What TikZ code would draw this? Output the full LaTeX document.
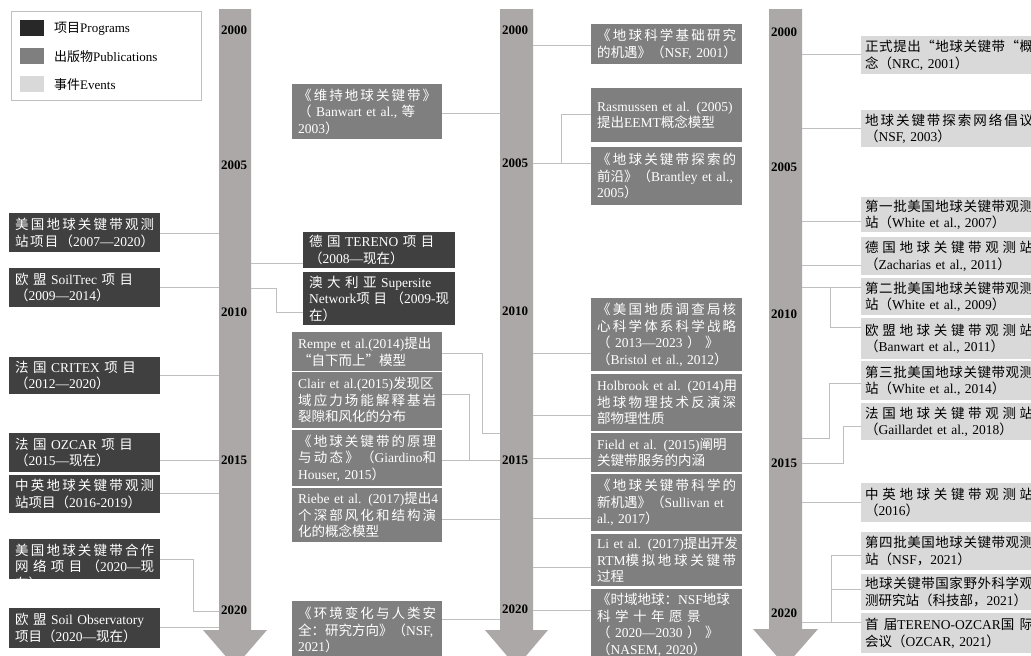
\documentclass[tikz,border=0pt]{standalone}
\usepackage{fontspec}
\setmainfont{Liberation Serif}
\newfontfamily\zhfont{Noto Sans CJK SC}
\setlength{\parindent}{0pt}
\XeTeXinterchartokenstate=1
\chardef\CJKcls=10
\newcount\cjkcnt
\newdimen\cjkst \cjkst=0pt
\newcommand\setcjkrange[2]{\cjkcnt=#1\relax
  \loop\XeTeXcharclass\cjkcnt=\CJKcls\relax
  \advance\cjkcnt by 1\relax
  \ifnum\cjkcnt<#2\relax\repeat}
\setcjkrange{"3000}{"3040}
\setcjkrange{"4E00}{"A000}
\setcjkrange{"FF00}{"FFF0}
\XeTeXcharclass"201C=\CJKcls
\XeTeXcharclass"201D=\CJKcls
\XeTeXcharclass"2014=0
\XeTeXinterchartoks 0 \CJKcls = {\zhfont}
\XeTeXinterchartoks 4095 \CJKcls = {\zhfont}
\XeTeXinterchartoks \CJKcls 0 = {\rmfamily}
\XeTeXinterchartoks \CJKcls 4095 = {\rmfamily}
\XeTeXinterchartoks \CJKcls \CJKcls = {\hskip 0pt plus \cjkst\relax}
% justified line, stretch between Chinese characters
\newcommand\jl[1]{\makebox[\hsize][s]{\cjkst=1pt\relax #1}}
% justified line, stretch in the spaces only
\newcommand\jm[1]{\makebox[\hsize][s]{\cjkst=0pt\relax #1}}
\definecolor{arrowc}{RGB}{172,168,167}
\definecolor{progc}{RGB}{64,64,64}
\definecolor{pubc}{RGB}{127,127,127}
\definecolor{evtc}{RGB}{217,217,217}
\definecolor{connc}{RGB}{191,191,191}
\definecolor{legdark}{RGB}{40,40,40}
\definecolor{legmid}{RGB}{127,127,127}
\definecolor{leglight}{RGB}{217,217,217}
\begin{document}
\begin{tikzpicture}[x=1pt,y=-1pt,
  bxbase/.style={anchor=north west, inner sep=0pt, align=left, font=\fontsize{13.5}{16.5}\selectfont},
  prog/.style={bxbase, fill=progc, text=white},
  pub/.style={bxbase, fill=pubc, text=white},
  evt/.style={bxbase, fill=evtc, text=black},
  colL/.style={minimum width=151pt, text width=139pt},
  colT/.style={minimum width=152pt, text width=140pt},
  colB/.style={minimum width=150pt, text width=138pt},
  colC/.style={minimum width=151pt, text width=139pt},
  colE/.style={minimum width=176pt, text width=168pt},
  conn/.style={draw=connc, line width=1pt},
  shaft/.style={fill=arrowc},
  yr/.style={anchor=west, inner sep=0pt, font=\bfseries\fontsize{13}{15}\selectfont},
  legtxt/.style={anchor=west, inner sep=0pt, font=\fontsize{13}{15}\selectfont},
  sw/.style={anchor=north west, inner sep=0pt, minimum width=24pt, minimum height=16pt}]
\useasboundingbox (0,0) rectangle (1031,656);
\clip (0,0) rectangle (1031,656);
\fill[white] (0,0) rectangle (1031,656);

% arrows
\fill[shaft] (219,9) -- (251,9) -- (251,630) -- (267,630) -- (235,667) -- (203,630) -- (219,630) -- cycle;
\fill[shaft] (500,9) -- (533,9) -- (533,630) -- (548,630) -- (516.5,667) -- (485,630) -- (500,630) -- cycle;
\fill[shaft] (769,9) -- (802,9) -- (802,629) -- (818,629) -- (785.5,666) -- (753,629) -- (769,629) -- cycle;

% years
\foreach \yv/\yy in {2000/30,2005/165,2010/312,2015/460,2020/610}
  \node[yr] (ya\yv) at (221,\yy) {\yv};
\foreach \yv/\yy in {2000/30,2005/163,2010/311,2015/460,2020/609}
  \node[yr] (yb\yv) at (502,\yy) {\yv};
\foreach \yv/\yy in {2000/32,2005/167,2010/314,2015/463,2020/613}
  \node[yr] (yc\yv) at (771,\yy) {\yv};

% legend
\node[draw=connc, line width=1pt, anchor=north west, inner sep=0pt, minimum width=190pt, minimum height=89pt] (leg) at (11,11) {};
\node[sw, fill=legdark] (sw1) at (20,20) {};
\node[sw, fill=legmid] (sw2) at (20,48) {};
\node[sw, fill=leglight] (sw3) at (20,76) {};
\node[legtxt] (lt1) at (54,29) {项目Programs};
\node[legtxt] (lt2) at (54,57) {出版物Publications};
\node[legtxt] (lt3) at (54,85) {事件Events};

% programs, left column
\node[prog,colL,minimum height=39pt] (P1) at (9,213) {\jl{美国地球关键带观测}\\\jl{站项目（2007—2020）}};
\node[prog,colL,minimum height=39pt] (P2) at (9,268) {\jm{欧 盟 SoilTrec 项 目}\\（2009—2014）};
\node[prog,colL,minimum height=37pt] (P3) at (9,357) {\jm{法 国 CRITEX 项 目}\\（2012—2020）};
\node[prog,colL,minimum height=39pt] (P4) at (9,433) {\jm{法 国 OZCAR 项 目}\\（2015—现在）};
\node[prog,colL,minimum height=38pt] (P5) at (9,475) {\jl{中英地球关键带观测}\\站项目（2016-2019）};
\begin{scope}
\clip (9,539) rectangle (160,578);
\node[prog,colL,inner ysep=4.5pt] (P6) at (9,539) {\jl{美国地球关键带合作}\\\jl{网络项目（2020—现}\\在）};
\end{scope}
\node[prog,colL,minimum height=40pt] (P7) at (9,608) {\jm{欧 盟 Soil Observatory}\\项目（2020—现在）};

% programs, second column
\node[prog,colT,minimum height=36pt] (T1) at (303,232) {\jm{德 国 TERENO 项 目}\\（2008—现在）};
\node[prog,colT,minimum height=53pt] (T2) at (303,272) {\jm{澳 大 利 亚 Supersite}\\\jl{Network项目（2009-现}\\在）};

% publications, second column
\node[pub,colB,minimum height=55pt] (B1) at (292,84) {\jl{《维持地球关键带》}\\\jm{（ Banwart et al., 等}\\2003）};
\node[pub,colB,minimum height=39pt] (B2) at (292,332) {\jm{Rempe et al.(2014)提出}\\“自下而上”模型};
\node[pub,colB,minimum height=56pt] (B3) at (292,372) {\jm{Clair et al.(2015)发现区}\\\jl{域应力场能解释基岩}\\裂隙和风化的分布};
\node[pub,colB,minimum height=56pt] (B4) at (292,430) {\jl{《地球关键带的原理}\\\jl{与动态》（Giardino和}\\Houser, 2015）};
\node[pub,colB,minimum height=54pt] (B5) at (292,488) {\jm{Riebe et al. (2017)提出4}\\\jl{个深部风化和结构演}\\化的概念模型};
\node[pub,colB,minimum height=58pt] (B6) at (292,601) {\jl{《环境变化与人类安}\\\jm{全：研究方向》（NSF,}\\2021）};

% publications, third column
\node[pub,colC,minimum height=40pt] (C1) at (591,24) {\jl{《地球科学基础研究}\\\jm{的机遇》（NSF, 2001）}};
\node[pub,colC,minimum height=54pt] (C2) at (591,88) {\jm{Rasmussen et al. (2005)}\\提出EEMT概念模型};
\node[pub,colC,minimum height=58pt] (C3) at (591,147) {\jl{《地球关键带探索的}\\\jm{前沿》（Brantley et al.,}\\2005）};
\node[pub,colC,minimum height=73pt] (C4) at (591,298) {\jl{《美国地质调查局核}\\\jl{心科学体系科学战略}\\\jm{（ 2013—2023 ） 》}\\（Bristol et al., 2012）};
\node[pub,colC,minimum height=57pt] (C5) at (591,374) {\jm{Holbrook et al. (2014)用}\\\jl{地球物理技术反演深}\\部物理性质};
\node[pub,colC,minimum height=39pt] (C6) at (591,433) {\jm{Field et al. (2015)阐明}\\关键带服务的内涵};
\node[pub,colC,minimum height=57pt] (C7) at (591,474) {\jl{《地球关键带科学的}\\\jm{新机遇》（Sullivan et}\\al., 2017）};
\node[pub,colC,minimum height=52pt] (C8) at (591,534) {\jm{Li et al. (2017)提出开发}\\\jl{RTM模拟地球关键带}\\过程};
\node[pub,colC,minimum height=71pt] (C9) at (591,589) {\jm{《时域地球：NSF地球}\\\jm{科 学 十 年 愿 景}\\\jm{（ 2020—2030 ） 》}\\（NASEM, 2020）};

% events, right column
\node[evt,colE,minimum height=38pt] (E1) at (861,36) {\jl{正式提出“地球关键带“概}\\念（NRC, 2001）};
\node[evt,colE,minimum height=37pt] (E2) at (861,110) {\jl{地球关键带探索网络倡议}\\（NSF, 2003）};
\node[evt,colE,minimum height=35pt] (E3) at (861,197) {\jl{第一批美国地球关键带观测}\\站（White et al., 2007）};
\node[evt,colE,minimum height=38pt] (E4) at (861,237) {\jl{德国地球关键带观测站}\\（Zacharias et al., 2011）};
\node[evt,colE,minimum height=37pt] (E5) at (861,278) {\jl{第二批美国地球关键带观测}\\站（White et al., 2009）};
\node[evt,colE,minimum height=41pt] (E6) at (861,318) {\jl{欧盟地球关键带观测站}\\（Banwart et al., 2011）};
\node[evt,colE,minimum height=39pt] (E7) at (861,361) {\jl{第三批美国地球关键带观测}\\站（White et al., 2014）};
\node[evt,colE,minimum height=37pt] (E8) at (861,403) {\jl{法国地球关键带观测站}\\（Gaillardet et al., 2018）};
\node[evt,colE,minimum height=39pt] (E9) at (861,483) {\jl{中英地球关键带观测站}\\（2016）};
\node[evt,colE,minimum height=38pt] (E10) at (861,532) {\jl{第四批美国地球关键带观测}\\站（NSF，2021）};
\node[evt,colE,minimum height=36pt] (E11) at (861,574) {\jl{地球关键带国家野外科学观}\\测研究站（科技部，2021）};
\node[evt,colE,minimum height=40pt] (E12) at (861,613) {\jl{首届TERENO-OZCAR国际}\\会议（OZCAR, 2021）};

% junction coordinates on the shafts
\coordinate (j1) at (219,233);
\coordinate (j2) at (219,287);
\coordinate (j3) at (219,375);
\coordinate (j4) at (219,460);
\coordinate (j5) at (219,493);
\coordinate (k6a) at (193,559);
\coordinate (k6b) at (193,611);
\coordinate (j6) at (219,611);
\coordinate (j7) at (219,627);
\coordinate (r1) at (251,263);
\coordinate (r2) at (251,288);
\coordinate (r2a) at (276,288);
\coordinate (r2b) at (276,312);
\coordinate (m1) at (500,113);
\coordinate (b2a) at (482,353);
\coordinate (b2b) at (482,433);
\coordinate (m2) at (500,433);
\coordinate (b3a) at (469,394);
\coordinate (b3b) at (469,460);
\coordinate (m3) at (500,460);
\coordinate (m5) at (500,519);
\coordinate (m6) at (500,619);
\coordinate (n1) at (533,45);
\coordinate (c2a) at (561,114);
\coordinate (c2b) at (561,163);
\coordinate (n2) at (533,163);
\coordinate (n4) at (533,353);
\coordinate (n5) at (533,415);
\coordinate (n6) at (533,458);
\coordinate (n7) at (533,518);
\coordinate (n8) at (533,567);
\coordinate (n9) at (533,610);
\coordinate (q1) at (802,54);
\coordinate (q2) at (802,128);
\coordinate (q3) at (802,221);
\coordinate (q4) at (802,265);
\coordinate (q5) at (802,287);
\coordinate (g5) at (830,287);
\coordinate (g6) at (830,327);
\coordinate (g7a) at (829,383);
\coordinate (g7b) at (829,438);
\coordinate (q7) at (802,438);
\coordinate (g8a) at (843,426);
\coordinate (g8b) at (843,463);
\coordinate (q8) at (802,463);
\coordinate (q9) at (802,502);
\coordinate (g10a) at (831,555);
\coordinate (g10b) at (831,622);
\coordinate (q10) at (802,622);
\coordinate (g11) at (831,589);

% connectors
\draw[conn] (P1.east |- j1) -- (j1);
\draw[conn] (P2.east |- j2) -- (j2);
\draw[conn] (P3.east |- j3) -- (j3);
\draw[conn] (P4.east |- j4) -- (j4);
\draw[conn] (P5.east |- j5) -- (j5);
\draw[conn] (P6.east |- k6a) -- (k6a) -- (k6b) -- (j6);
\draw[conn] (P7.east |- j7) -- (j7);
\draw[conn] (r1) -- (T1.west |- r1);
\draw[conn] (r2) -- (r2a) -- (r2b) -- (T2.west |- r2b);
\draw[conn] (B1.east |- m1) -- (m1);
\draw[conn] (B2.east |- b2a) -- (b2a) -- (b2b) -- (m2);
\draw[conn] (B3.east |- b3a) -- (b3a) -- (b3b) -- (m3);
\draw[conn] (B4.east |- m3) -- (b3b);
\draw[conn] (B5.east |- m5) -- (m5);
\draw[conn] (B6.east |- m6) -- (m6);
\draw[conn] (n1) -- (C1.west |- n1);
\draw[conn] (C2.west |- c2a) -- (c2a) -- (c2b) -- (n2);
\draw[conn] (n2) -- (C3.west |- n2);
\draw[conn] (n4) -- (C4.west |- n4);
\draw[conn] (n5) -- (C5.west |- n5);
\draw[conn] (n6) -- (C6.west |- n6);
\draw[conn] (n7) -- (C7.west |- n7);
\draw[conn] (n8) -- (C8.west |- n8);
\draw[conn] (n9) -- (C9.west |- n9);
\draw[conn] (q1) -- (E1.west |- q1);
\draw[conn] (q2) -- (E2.west |- q2);
\draw[conn] (q3) -- (E3.west |- q3);
\draw[conn] (q4) -- (E4.west |- q4);
\draw[conn] (q5) -- (E5.west |- q5);
\draw[conn] (g5) -- (g6) -- (E6.west |- g6);
\draw[conn] (E7.west |- g7a) -- (g7a) -- (g7b) -- (q7);
\draw[conn] (E8.west |- g8a) -- (g8a) -- (g8b) -- (q8);
\draw[conn] (q9) -- (E9.west |- q9);
\draw[conn] (E10.west |- g10a) -- (g10a) -- (g10b) -- (q10);
\draw[conn] (g11) -- (E11.west |- g11);
\draw[conn] (g10b) -- (E12.west |- g10b);
\end{tikzpicture}
\end{document}
